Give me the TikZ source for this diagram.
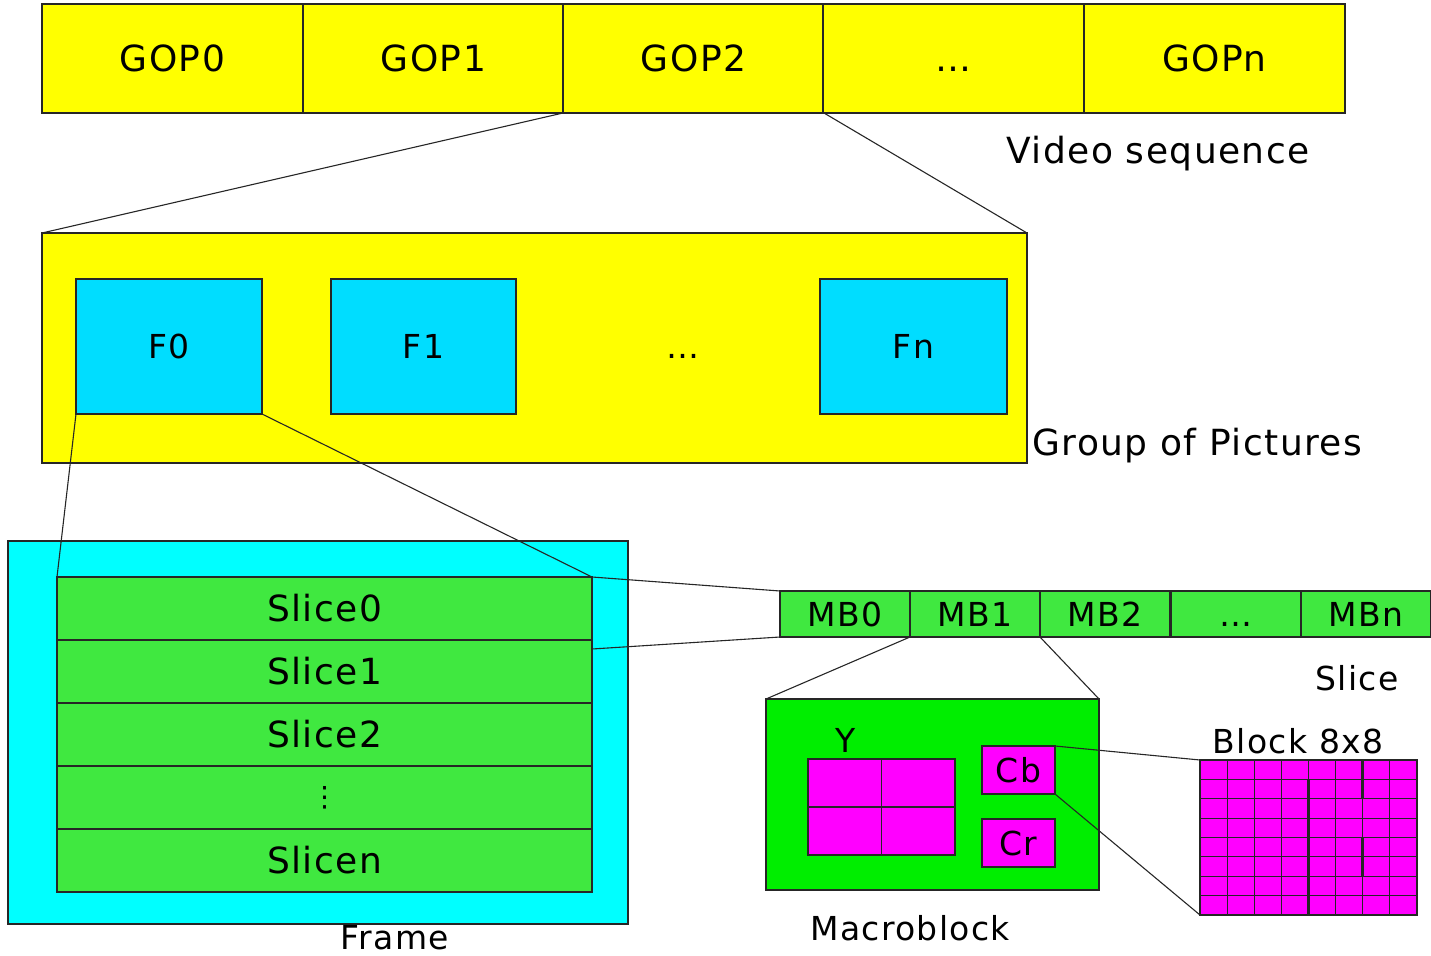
\documentclass[tikz,border=0pt]{standalone}
\usepackage{fontspec}
\setmainfont{DejaVu Sans}[LetterSpace=4]
\usetikzlibrary{calc}
\definecolor{edge}{HTML}{262626}
\definecolor{gopyellow}{HTML}{FFFF00}
\definecolor{picblue}{HTML}{00DDFF}
\definecolor{framecyan}{HTML}{00FFFF}
\definecolor{slicegreen}{HTML}{40E840}
\definecolor{mbgreen}{HTML}{00EE00}
\definecolor{blockmag}{HTML}{FF00FF}
\begin{document}
\begin{tikzpicture}[x=1pt,y=-1pt,
  box/.style={draw=edge, line width=1.4pt, inner sep=0pt, outer sep=0pt, anchor=north west},
  bigtext/.style={font=\fontsize{36}{40}\selectfont},
  midtext/.style={font=\fontsize{33}{38}\selectfont},
  caption/.style={inner sep=0pt, anchor=base},
  link/.style={draw=edge, line width=1.1pt},
  gridline/.style={draw=edge, line width=1.2pt}]
\useasboundingbox (0,0) rectangle (1431,955);

% ---- video sequence: row of GOPs
\foreach \n/\x/\t in {gop0/42/GOP0, gop1/303/GOP1, gop2/563/GOP2, gopd/823/\vphantom{GOP}\ldots, gopn/1084/GOPn}
  \node[box, bigtext, fill=gopyellow, minimum width=261pt, minimum height=109pt] (\n) at (\x,4) {\t};
\node[caption, bigtext] (vslabel) at (1158,163) {Video sequence};

% ---- group of pictures
\node[box, fill=gopyellow, minimum width=985pt, minimum height=230pt] (gopbox) at (42,233) {};
\node[box, midtext, fill=picblue, minimum width=186pt, minimum height=135pt] (f0) at (76,279) {F0};
\node[box, midtext, fill=picblue, minimum width=185pt, minimum height=135pt] (f1) at (331,279) {F1};
\node[box, midtext, fill=picblue, minimum width=187pt, minimum height=135pt] (fn) at (820,279) {Fn};
\node[midtext, inner sep=0pt] (fdots) at (683,346) {\vphantom{F0}\ldots};
\node[caption, bigtext, anchor=base west] (goplabel) at (1032,455) {Group of Pictures};

% ---- frame made of slices
\node[box, fill=framecyan, minimum width=620pt, minimum height=383pt] (frame) at (8,541) {};
\foreach \n/\y/\t in {s0/577/Slice0, s1/640/Slice1, s2/703/Slice2, sd/766/{\fontsize{28}{34}\selectfont\raisebox{-5pt}{⋮}}, sn/829/Slicen}
  \node[box, bigtext, fill=slicegreen, minimum width=535pt, minimum height=63pt] (\n) at (57,\y) {\t};
\node[caption, midtext] (framelabel) at (395,949) {Frame};
\coordinate (s1edge) at (592,649);

% ---- slice made of macroblocks
\foreach \n/\x/\t in {mb0/780/MB0, mb1/910/MB1, mb2/1040/MB2, mbd/1171/\vphantom{MB}\ldots, mbn/1301/MBn}
  \node[box, midtext, fill=slicegreen, minimum width=130pt, minimum height=46pt] (\n) at (\x,591) {\t};
\node[caption, midtext] (slicelabel) at (1357,690) {Slice};

% ---- macroblock: Y, Cb, Cr
\node[box, fill=mbgreen, minimum width=333pt, minimum height=191pt] (mblock) at (766,699) {};
\node[caption, midtext] (ylabel) at (846,752) {Y};
\node[box, fill=blockmag, minimum width=147pt, minimum height=96pt] (yblk) at (808,759) {};
\draw[gridline] (yblk.north) -- (yblk.south);
\draw[gridline] (yblk.west) -- (yblk.east);
\node[box, midtext, fill=blockmag, minimum width=73pt, minimum height=48pt] (cb) at (982,746) {Cb};
\node[box, midtext, fill=blockmag, minimum width=73pt, minimum height=48pt] (cr) at (982,819) {Cr};
\node[caption, midtext] (mblabel) at (910,940) {Macroblock};

% ---- 8x8 block of samples
\node[box, fill=blockmag, minimum width=217pt, minimum height=155pt] (blk) at (1200,760) {};
\foreach \i in {1,...,7} {
  \draw[gridline] ($(blk.north west)+(\i*27.125,0)$) -- ++(0,155);
  \draw[gridline] ($(blk.north west)+(0,\i*19.375)$) -- ++(217,0);
}
\draw[edge, line width=3pt] ($(blk.north west)+(108.5,19.4)$) -- ++(0,135.6);
\draw[edge, line width=3pt] ($(blk.north west)+(162.75,0)$) -- ++(0,38.75);
\draw[edge, line width=3pt] ($(blk.north west)+(162.75,77.5)$) -- ++(0,38.75);
\node[caption, midtext] (blklabel) at (1298,753) {Block 8x8};

% ---- zoom connectors between levels
\draw[link] (gop2.south west) -- (gopbox.north west);
\draw[link] (gop2.south east) -- (gopbox.north east);
\draw[link] (f0.south west) -- (s0.north west);
\draw[link] (f0.south east) -- (s0.north east);
\draw[link] (s0.north east) -- (mb0.north west);
\draw[link] (s1edge) -- (mb0.south west);
\draw[link] (mb1.south west) -- (mblock.north west);
\draw[link] (mb1.south east) -- (mblock.north east);
\draw[link] (cb.north east) -- (blk.north west);
\draw[link] (cb.south east) -- (blk.south west);
\end{tikzpicture}
\end{document}
